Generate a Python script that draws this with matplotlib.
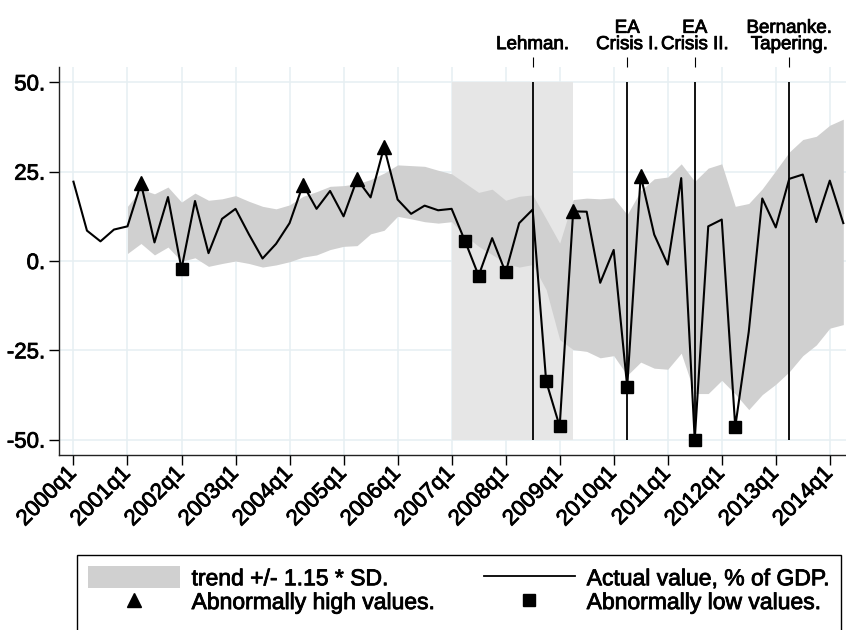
import numpy as np
import matplotlib
matplotlib.use("Agg")
import matplotlib.pyplot as plt
import matplotlib.patheffects as pe
from matplotlib.patches import Patch, Rectangle
from matplotlib.lines import Line2D

plt.rcParams['font.family'] = ['Liberation Sans', 'DejaVu Sans']

# quarterly axis, 2000q1 .. 2014q2
years = list(range(2000, 2015))
quarters = [f"{y}q{q}" for y in years for q in range(1, 5)][:58]

# actual value, % of GDP
actual = [22.2, 8.5, 5.5, 8.8,
          9.7, 21.7, 5.2, 17.9,
          -2.2, 16.8, 2.2, 11.8,
          14.6, 7.4, 0.7, 4.8,
          10.6, 21.4, 14.6, 19.6,
          12.5, 22.9, 17.8, 31.9,
          17.2, 13.2, 15.5, 14.2,
          14.6, 5.5, -4.1, 6.4,
          -3.2, 10.6, 14.4, -33.7,
          -46.3, 13.9, 13.8, -6.1,
          3.1, -35.2, 23.9, 7.4,
          -1.0, 23.2, -50.0, 9.7,
          11.6, -46.4, -19.8, 17.5,
          9.4, 23.0, 24.2, 10.9,
          22.5, 10.6]

# trend +/- 1.15 SD band, starts 2001q1
band_start = "2001q1"
band_upper = [15.3, 20.1, 18.8, 20.7,
              16.5, 19.0, 17.0, 17.4,
              18.3, 16.7, 15.3, 14.6,
              15.7, 18.1, 19.4, 20.9,
              21.1, 21.6, 22.8, 24.6,
              26.9, 26.7, 26.5, 25.4,
              24.4, 21.8, 19.2, 20.1,
              17.0, 18.1, 18.5, 11.8,
              5.0, 17.2, 17.6, 17.4,
              17.7, 13.0, 19.7, 23.0,
              23.5, 27.2, 22.3, 26.0,
              27.2, 15.3, 16.1, 20.2,
              25.3, 30.5, 34.0, 34.9,
              38.0, 39.7]
band_lower = [2.1, 4.9, 1.7, 3.9,
              -0.1, 0.9, -1.5, -0.7,
              0.0, -0.7, -1.7, -1.1,
              -0.2, 1.1, 1.7, 3.2,
              4.1, 4.3, 7.6, 8.6,
              12.5, 11.8, 11.0, 10.6,
              11.0, 7.1, 4.1, 1.8,
              -0.7, -1.7, -1.0, -8.0,
              -22.0, -24.8, -25.3, -27.1,
              -26.5, -32.0, -28.3, -30.0,
              -30.3, -25.8, -37.1, -37.1,
              -33.4, -37.2, -41.6, -37.4,
              -34.5, -31.0, -26.5, -23.5,
              -18.8, -17.8]

high_q = ["2001q2", "2004q2", "2005q2", "2005q4", "2009q2", "2010q3"]
low_q = ["2002q1", "2007q2", "2007q3", "2008q1", "2008q4", "2009q1",
         "2010q2", "2011q3", "2012q2"]

shade_from, shade_to = "2007q1", "2009q2"
events = ["2008q3", "2010q2", "2011q3", "2013q2"]
event_labels = ["Lehman.", "EA\nCrisis I.", "EA\nCrisis II.", "Bernanke.\nTapering."]

yticks = [-50, -25, 0, 25, 50]
ytick_labels = ["-50.", "-25.", "0.", "25.", "50."]

idx = {q: i for i, q in enumerate(quarters)}
x = np.arange(len(quarters))
xb = np.arange(idx[band_start], idx[band_start] + len(band_upper))
act = np.array(actual)

# thicken text a little, the original type is heavy
heavy = [pe.withStroke(linewidth=0.6, foreground="black")]

fig = plt.figure(figsize=(8.46, 6.3), dpi=100)
ax = fig.add_axes([59 / 846, 1 - 455 / 630, 1 - 59 / 846, (455 - 67) / 630])

ax.fill_between([idx[shade_from], idx[shade_to]], -50, 50, color="#e6e6e6",
                lw=0, zorder=1)
ax.fill_between(xb, band_lower, band_upper, color="#d0d0d0", lw=0, zorder=2)
ax.vlines([idx[e] for e in events], -50, 50, color="black", lw=1.3, zorder=3)
ax.plot(x, act, color="black", lw=1.5, zorder=4)
hi = [idx[q] for q in high_q]
lo = [idx[q] for q in low_q]
ax.plot(hi, act[hi], ls="none", marker="^", ms=10, color="black", zorder=5)
ax.plot(lo, act[lo], ls="none", marker="s", ms=9, color="black", zorder=5)

ax.set_xlim(-1.07, 57.2)
ax.set_ylim(-54.3, 54.3)
ax.set_yticks(yticks)
ax.set_yticklabels(ytick_labels, fontsize=16)
ax.set_xticks(x[::4])
ax.set_xticklabels(quarters[::4], fontsize=16, rotation=45, ha="right",
                   va="center", rotation_mode="anchor")
ax.tick_params(axis="y", length=7, width=1, pad=3)
ax.tick_params(axis="x", length=7, width=1, pad=4)
ax.grid(True, color="#e6eff2", lw=1.1, zorder=0)
ax.set_axisbelow(True)
for s in ["top", "right"]:
    ax.spines[s].set_visible(False)
for s in ["left", "bottom"]:
    ax.spines[s].set_color("#222222")
    ax.spines[s].set_linewidth(1)

top = ax.secondary_xaxis("top")
top.set_xticks([idx[e] for e in events])
top.set_xticklabels(event_labels, fontsize=13.5, linespacing=0.95)
top.tick_params(length=7, width=0.8, pad=3)
top.spines["top"].set_visible(False)

for t in ax.get_xticklabels() + ax.get_yticklabels() + top.get_xticklabels():
    t.set_path_effects(heavy)

handles = [Patch(facecolor="#d0d0d0", edgecolor="none"),
           Line2D([], [], ls="none", marker="^", ms=10, color="black"),
           Line2D([], [], color="black", lw=1.3),
           Line2D([], [], ls="none", marker="s", ms=9, color="black")]
labels = ["trend +/- 1.15 * SD.", "Abnormally high values.",
          "Actual value, % of GDP.", "Abnormally low values."]
# legend box runs off the bottom of the figure
fig.patches.append(Rectangle((77 / 846, -0.05), (841 - 77) / 846,
                             1 - 555 / 630 + 0.05, transform=fig.transFigure,
                             facecolor="white", edgecolor="black", lw=1.0,
                             zorder=0))
leg = fig.legend(handles, labels, ncol=2, loc="upper left", mode="expand",
                 bbox_to_anchor=(77 / 846, 1 - 555 / 630, (841 - 77) / 846, 0),
                 fontsize=16.5, handlelength=4.0, handleheight=1.1,
                 handletextpad=0.5, labelspacing=0.0, borderpad=0.5,
                 borderaxespad=0, frameon=False)
for t in leg.get_texts():
    t.set_path_effects(heavy)

fig.savefig("out.png", dpi=100)
